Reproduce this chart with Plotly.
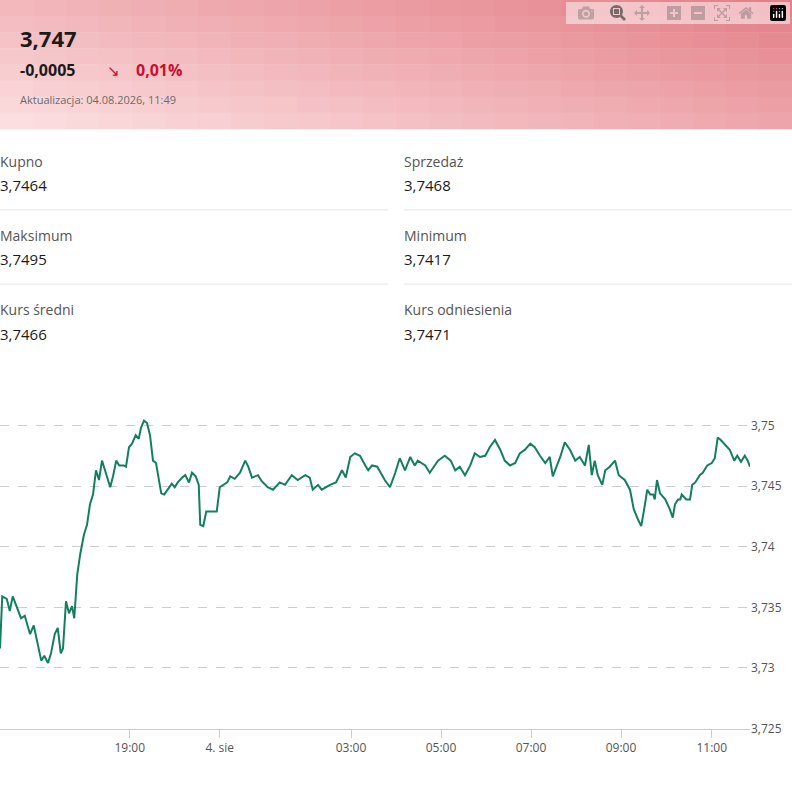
import plotly.graph_objects as go

# trading-minute offset from start of view, and EUR/PLN rate
minutes = [0, 3, 9, 13, 17, 23, 28, 33, 40, 45, 51, 55, 59, 64, 68, 73, 77, 81, 84, 88,
           92, 96, 99, 103, 107, 112, 116, 120, 124, 128, 132, 136, 140, 147, 151, 155, 159, 165, 168, 172,
           176, 181, 185, 188, 192, 196, 200, 204, 208, 215, 219, 224, 229, 233, 237, 243, 247, 252, 256, 261,
           265, 267, 271, 275, 289, 293, 303, 307, 313, 320, 327, 331, 336, 344, 349, 357, 364, 373, 380, 389,
           397, 407, 413, 417, 424, 429, 440, 448, 456, 461, 467, 473, 480, 487, 491, 496, 503, 513, 520, 527,
           533, 540, 547, 553, 557, 567, 573, 584, 593, 601, 607, 613, 620, 627, 633, 640, 647, 653, 660, 667,
           673, 680, 687, 693, 700, 707, 713, 720, 727, 733, 737, 747, 753, 760, 767, 773, 780, 785, 789, 793,
           797, 803, 807, 813, 820, 825, 833, 840, 845, 851, 855, 860, 863, 867, 871, 873, 876, 880, 887, 893,
           897, 900, 904, 907, 909, 915, 920, 923, 927, 933, 937, 943, 949, 953, 957, 961, 967, 973, 979, 983,
           988, 993, 997, 1000]
rates = [3.7316, 3.7359, 3.7357, 3.7347, 3.7359, 3.7349, 3.7341, 3.7343, 3.7328, 3.7335,
         3.7316, 3.7306, 3.7310, 3.7304, 3.7312, 3.7328, 3.7333, 3.7312, 3.7316, 3.7355,
         3.7345, 3.7351, 3.7341, 3.7377, 3.7394, 3.7410, 3.7418, 3.7435, 3.7443, 3.7463,
         3.7455, 3.7471, 3.7463, 3.7449, 3.7459, 3.7471, 3.7467, 3.7467, 3.7466, 3.7482,
         3.7485, 3.7492, 3.7489, 3.7498, 3.7504, 3.7502, 3.7492, 3.7471, 3.7469, 3.7444,
         3.7443, 3.7448, 3.7452, 3.7449, 3.7453, 3.7457, 3.7459, 3.7453, 3.7461, 3.7458,
         3.7451, 3.7418, 3.7417, 3.7429, 3.7429, 3.7449, 3.7453, 3.7458, 3.7456, 3.7461,
         3.7471, 3.7466, 3.7457, 3.7459, 3.7454, 3.7449, 3.7447, 3.7453, 3.7451, 3.7459,
         3.7455, 3.7459, 3.7457, 3.7447, 3.7451, 3.7447, 3.7451, 3.7453, 3.7463, 3.7457,
         3.7474, 3.7477, 3.7475, 3.7467, 3.7463, 3.7467, 3.7466, 3.7455, 3.7449, 3.7461,
         3.7473, 3.7463, 3.7474, 3.7467, 3.7471, 3.7467, 3.7461, 3.7471, 3.7475, 3.7471,
         3.7463, 3.7466, 3.7459, 3.7467, 3.7477, 3.7474, 3.7475, 3.7482, 3.7488, 3.7480,
         3.7471, 3.7467, 3.7469, 3.7477, 3.7480, 3.7485, 3.7482, 3.7475, 3.7469, 3.7474,
         3.7458, 3.7474, 3.7486, 3.7480, 3.7471, 3.7474, 3.7467, 3.7484, 3.7459, 3.7471,
         3.7459, 3.7451, 3.7463, 3.7466, 3.7471, 3.7459, 3.7455, 3.7447, 3.7431, 3.7422,
         3.7417, 3.7435, 3.7447, 3.7443, 3.7443, 3.7439, 3.7455, 3.7444, 3.7439, 3.7431,
         3.7424, 3.7435, 3.7439, 3.7439, 3.7443, 3.7439, 3.7439, 3.7451, 3.7453, 3.7459,
         3.7461, 3.7467, 3.7469, 3.7473, 3.7490, 3.7488, 3.7484, 3.7480, 3.7471, 3.7475,
         3.7470, 3.7475, 3.7471, 3.7466]

tick_minutes = [173, 293, 468, 588, 708, 828, 949]
tick_labels = ["19:00", "4. sie", "03:00", "05:00", "07:00", "09:00", "11:00"]
y_ticks = [3.725, 3.73, 3.735, 3.74, 3.745, 3.75]
y_labels = ["3,725", "3,73", "3,735", "3,74", "3,745", "3,75"]

stats_left = [("Kupno", "3,7464"), ("Maksimum", "3,7495"), ("Kurs średni", "3,7466")]
stats_right = [("Sprzedaż", "3,7468"), ("Minimum", "3,7417"), ("Kurs odniesienia", "3,7471")]

W, H = 792, 790
FONT = "Open Sans, Noto Sans, sans-serif"

fig = go.Figure()
fig.add_trace(go.Scatter(
    x=minutes, y=rates, mode="lines",
    line=dict(color="#13805a", width=2),
    hoverinfo="skip", showlegend=False,
))


def px(x):
    return x / W


def py(y):
    return 1 - y / H


shapes = []
# header gradient: light pink at bottom-left, deeper pink top-right
nx, ny = 24, 8
c0 = (252, 222, 224)
c1 = (228, 128, 136)
for i in range(nx):
    for j in range(ny):
        t = 0.6 * i / (nx - 1) + 0.4 * (1 - j / (ny - 1))
        c = tuple(int(c0[k] + (c1[k] - c0[k]) * t) for k in range(3))
        shapes.append(dict(type="rect", xref="paper", yref="paper",
                           x0=i / nx, x1=(i + 1) / nx + 0.001,
                           y0=py(130 * (j + 1) / ny + 0.5), y1=py(130 * j / ny),
                           fillcolor="rgb(%d,%d,%d)" % c, line=dict(width=0), layer="below"))
# dividers in stats block
for yy in (212, 287):
    for x0, x1 in ((0, 388), (404, 792)):
        shapes.append(dict(type="line", xref="paper", yref="paper",
                           x0=px(x0), x1=px(x1), y0=py(yy), y1=py(yy),
                           line=dict(color="#e4e4e4", width=1)))

ann = []


def text(x, y, s, size, color, bold=False):
    ann.append(dict(xref="paper", yref="paper", x=px(x), y=py(y), xanchor="left",
                    yanchor="middle", showarrow=False,
                    text="<b>%s</b>" % s if bold else s,
                    font=dict(size=size, color=color, family=FONT)))


text(18, 38, "3,747", 22, "#1a1a1a", True)
text(18, 71, "-0,0005", 16, "#1a1a1a", True)
text(105, 71, "↘", 15, "#c8102e")
text(134, 71, "0,01%", 16, "#c8102e", True)
text(18, 101, "Aktualizacja: 04.08.2026, 11:49", 11, "#6b6b6b")

for col_x, stats in ((-2, stats_left), (402, stats_right)):
    for i, (lab, val) in enumerate(stats):
        y0 = 163 + 75 * i
        text(col_x, y0, lab, 14, "#555555")
        text(col_x, y0 + 24, val, 15, "#1a1a1a")

fig.update_layout(
    width=W, height=H,
    margin=dict(l=0, r=0, t=0, b=0),
    paper_bgcolor="white", plot_bgcolor="white",
    font=dict(family=FONT, color="#555555", size=12),
    shapes=shapes, annotations=ann,
    xaxis=dict(domain=[0, 750 / W], range=[0, 1000],
               tickvals=tick_minutes, ticktext=tick_labels,
               showgrid=False, zeroline=False,
               showline=True, linecolor="#cccccc", linewidth=1,
               ticks="outside", ticklen=8, tickcolor="#cccccc",
               tickfont=dict(size=12, color="#555555")),
    yaxis=dict(domain=[py(736), py(420)], range=[3.725, 3.7508],
               side="right", tickvals=y_ticks, ticktext=y_labels,
               showgrid=True, gridcolor="#cccccc", griddash="dash",
               zeroline=False, ticks="", tickfont=dict(size=12, color="#555555")),
)

fig.write_html("out.html", post_script="document.body.style.margin='0';")
